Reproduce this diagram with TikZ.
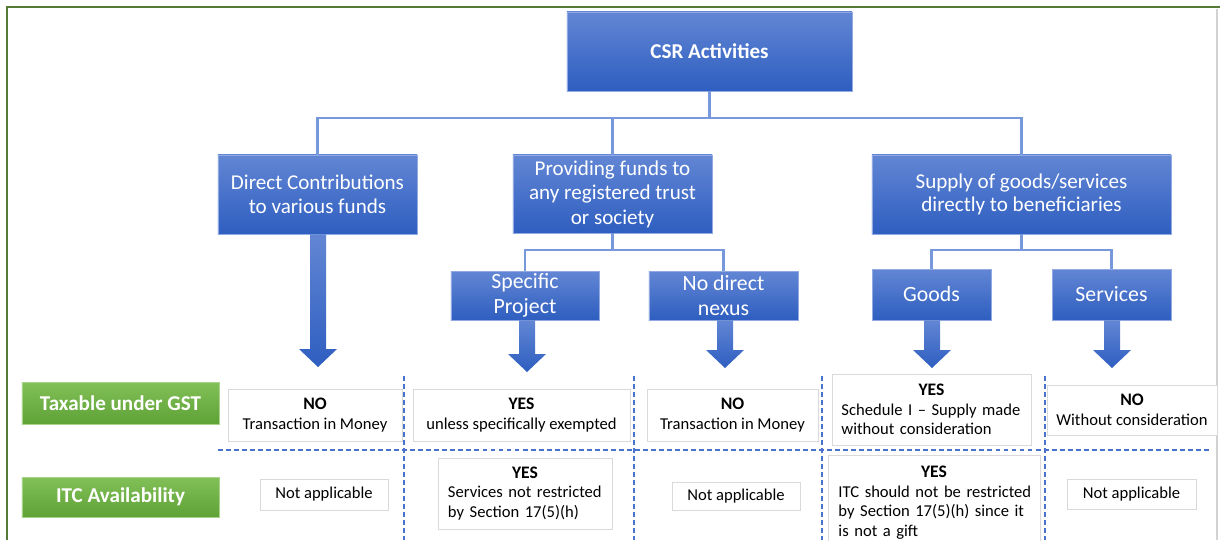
\documentclass[tikz,border=0pt]{standalone}
\usepackage{fontspec}
\setmainfont{Carlito}
\usetikzlibrary{calc,positioning}
\definecolor{boxtop}{RGB}{98,134,212}
\definecolor{boxbot}{RGB}{46,94,192}
\definecolor{linkblue}{RGB}{120,152,220}
\definecolor{dashblue}{RGB}{72,114,206}
\definecolor{tagtop}{RGB}{130,192,88}
\definecolor{tagbot}{RGB}{94,162,54}
\definecolor{framegreen}{RGB}{84,122,52}
\newcommand\verdict[1]{{\bfseries\fontsize{12.5}{15}\selectfont #1}}
\newcommand\blockarrow[2]{%
  \shade[top color=boxtop, bottom color=boxbot]
    ($(#1.south -| #2)+(-8,0)$) -- ($(#2)+(-8,-18)$) -- ($(#2)+(-19,-18)$) -- (#2)
    -- ($(#2)+(19,-18)$) -- ($(#2)+(8,-18)$) -- ($(#1.south -| #2)+(8,0)$) -- cycle;}

\begin{document}
\begin{tikzpicture}[x=0.025cm,y=-0.025cm,
        boxsize/.style 2 args={minimum width=#1*0.7113pt, minimum height=#2*0.7113pt},
        bluebox/.style={top color=boxtop, bottom color=boxbot, draw=boxtop!70!white,
          text=white, align=center, inner sep=0pt, font=\fontsize{15}{16.8}\selectfont},
        subbox/.style={bluebox, font=\fontsize{15.5}{17.8}\selectfont},
        rowtag/.style={top color=tagtop, bottom color=tagbot, draw=tagtop!70!white,
          text=white, inner sep=0pt, font=\bfseries\fontsize{15}{17}\selectfont},
        result/.style={fill=white, draw=gray!30, align=center, inner sep=0pt,
          font=\fontsize{11.8}{14}\selectfont},
        link/.style={draw=linkblue, line width=1.5pt},
        grid/.style={draw=dashblue, line width=1.4pt, dash pattern=on 3.5pt off 2.2pt},
        ]
        \useasboundingbox (0,0) rectangle (1220,540);
        \draw[framegreen, line width=1.5pt] (7,540) -- (7,7) -- (1220,7);
        \draw[gray!35, line width=0.8pt] (1217,9) -- (1217,540);

        \node[bluebox, boxsize={285}{79}, font=\bfseries\fontsize{15}{17}\selectfont]
          (csr) at (709.5,51.5) {CSR Activities};
        \node[bluebox, boxsize={199}{79}] (dcf) at (317.5,194.5) {Direct Contributions\\to various funds};
        \node[bluebox, boxsize={199}{78}, font=\fontsize{15}{17.4}\selectfont]
          (pft) at (612.5,194) {Providing funds to\\any registered trust\\or society};
        \node[bluebox, boxsize={299}{79}] (sup) at (1021.5,194.5) {Supply of goods/services\\directly to beneficiaries};
        \node[subbox, boxsize={148}{49}] (spp) at (525,295.5) {Specific\\Project};
        \node[subbox, boxsize={149}{49}] (ndn) at (723.5,295.5) {No direct\\nexus};
        \node[subbox, boxsize={119}{51}] (gds) at (931.5,294.5) {Goods};
        \node[subbox, boxsize={119}{51}] (svc) at (1111.5,294.5) {Services};

        \coordinate (busA) at (709.5,118);
        \coordinate (busB) at (612.5,250);
        \coordinate (busC) at (1021.5,250);
        \draw[link] (csr) -- (busA);
        \draw[link] (dcf) |- (busA) -| (sup);
        \draw[link] (pft) -- (pft |- busA);
        \draw[link] (pft) -- (busB);
        \draw[link] (spp) |- (busB) -| (ndn);
        \draw[link] (sup) -- (busC);
        \draw[link] (gds) |- (busC) -| (svc);

        \coordinate (tipA) at (318,367);
        \coordinate (tipB) at (527,372);
        \coordinate (tipC) at (725,368);
        \coordinate (tipD) at (932,368);
        \coordinate (tipE) at (1112,368);
        \blockarrow{dcf}{tipA}
        \blockarrow{spp}{tipB}
        \blockarrow{ndn}{tipC}
        \blockarrow{gds}{tipD}
        \blockarrow{svc}{tipE}

        \node[rowtag, boxsize={197}{42}] (tax) at (120.5,403) {Taxable under GST};
        \node[rowtag, boxsize={197}{40}] (itc) at (120.5,497) {ITC Availability};

        \node[result, boxsize={174}{52}] (taxA) at (315,415) {\verdict{NO}\\Transaction in Money};
        \node[result, boxsize={217}{52}] (taxB) at (521.5,415) {\verdict{YES}\\unless specifically exempted};
        \node[result, boxsize={171}{52}] (taxC) at (732.5,415) {\verdict{NO}\\Transaction in Money};
        \node[result, boxsize={199}{71}, text width=180*0.7113pt, align=left]
          (taxD) at (931.5,409.5) {{\centering\verdict{YES}\par}Schedule I -- Supply made\\without consideration};
        \node[result, boxsize={170}{50}] (taxE) at (1132,410) {\verdict{NO}\\Without consideration};

        \node[result, boxsize={128}{31}] (itcA) at (324,494.5) {Not applicable};
        \node[result, boxsize={174}{71}, text width=154*0.7113pt, align=left]
          (itcB) at (525,493.5) {{\centering\verdict{YES}\par}Services not restricted\\by Section 17(5)(h)};
        \node[result, boxsize={128}{28}] (itcC) at (736,496) {Not applicable};
        \node[result, boxsize={212}{95}, text width=191*0.7113pt, align=left, anchor=north]
          (itcD) at (934,455) {{\centering\verdict{YES}\par}\makebox[\linewidth][s]{ITC should not be restricted}\\
          \makebox[\linewidth][s]{by Section 17(5)(h) since it}\\is not a gift};
        \node[result, boxsize={129}{30}] (itcE) at (1131.5,494) {Not applicable};

        \draw[grid] (218,450) -- (1210,450);
        \foreach \gx in {404,634,822,1045}
          \draw[grid] (\gx,376) -- (\gx,540);
      \end{tikzpicture}
\end{document}
